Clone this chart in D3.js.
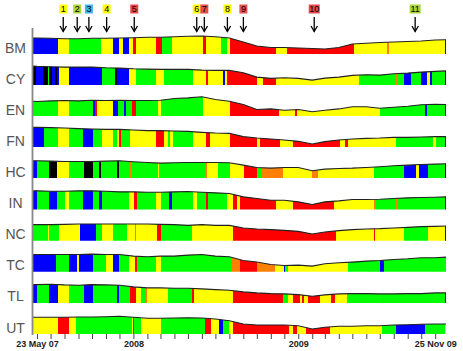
<!DOCTYPE html>
<html><head><meta charset="utf-8">
<script src="https://cdn.jsdelivr.net/npm/d3@7"></script>
<style>body{margin:0;background:#fff}svg{display:block}</style>
</head><body>
<svg id="chart" width="463" height="351"></svg>
<script>
// ---------- DATA ----------
const rowNames = ["BM","CY","EN","FN","HC","IN","NC","TC","TL","UT"];
const startDate = "2007-05-23", endDate = "2009-11-25";
const priceDates = ["2007-05-23","2007-06-01","2007-07-01","2007-08-01","2007-09-01","2007-10-01","2007-11-01","2007-12-01",
 "2008-01-01","2008-02-01","2008-03-01","2008-04-01","2008-05-01","2008-06-01","2008-07-01","2008-08-01","2008-09-01",
 "2008-10-01","2008-11-01","2008-12-01","2009-01-01","2009-02-01","2009-03-01","2009-04-01","2009-05-01","2009-06-01",
 "2009-07-01","2009-08-01","2009-09-01","2009-10-01","2009-11-01","2009-11-25"];
const priceBM = [16,16,15.7,15.3,15.3,15.7,15.7,16,16.3,16.7,16.7,17.3,17.7,18,17.3,16,12,8,6.5,6.5,6,5.5,5,6.5,10,10.7,11.5,12,12.5,13,14,14.3];
const priceCY = [19,18.7,18.3,18,18,18,17.3,17,16.3,16,15.7,15.7,15.7,15,14.7,14.7,12.3,8,6.7,7.3,6.7,5,7,8,9.7,10.3,10,11.3,12,13,13.7,14.2];
const priceEN = [15,14.7,15.3,15.7,15.3,16,15.7,16,15.7,15.7,16,17.7,18.3,19.5,16.7,15,11.7,6.7,7.3,6,6.7,4.5,6,7.3,9.5,9.5,8,9,10,11.5,12,11.7];
const priceFN = [20,20,19.7,19.3,18.7,18.3,18,18,17.3,16.7,16.7,16.3,16,15,14.3,14,10.7,9.3,8.3,7.3,6,3.3,5.7,7.3,8.3,9,9.3,10,10,10.3,10.7,10.7];
const priceHC = [17.7,17.7,17.3,17,17,17,17.3,17.7,16.7,16,15.3,15.7,16,16,16,15.7,13.3,11,10.3,11,11,7.7,9.3,10,10.3,11,11.7,12.7,13.3,14,14.3,14.7];
const priceIN = [18.7,18.7,18.3,18.3,18.7,18.7,18.3,17.7,17.7,17.3,17.3,17.7,18,17.3,16.7,16,12.7,11,9.3,9.3,7.7,5,7.7,8.7,10,10,10.3,11,11.7,12,12.3,12.7];
const priceNC = [16,16,16,16.3,16.7,16.7,16.7,16.7,16.7,16.7,16.3,16,15.3,16,15.3,15.3,12.7,11.7,11,10.3,9.3,6.7,8.7,10,11,11.7,12,12.7,13.3,14,14.3,14.7];
const priceTC = [17.3,17.3,17.3,17.3,17.3,17.7,17.3,17.3,15.7,15,15.7,15.7,16.7,17.3,15.7,15,11.3,9.7,7.3,6.3,6.7,5.7,8,9,9.7,10.7,11.3,12.3,13,14,14,14.7];
const priceTL = [18.3,18.3,18.7,18,17.7,18.3,18,17.7,16,15,15,14.7,14.7,14,13.3,12.7,11,10,9.3,9,8.3,6.7,8,9,9.3,9.3,9,9,9.3,9.3,10,10];
const priceUT = [16.7,16.7,16.7,16.7,17,17,17.3,17.7,16.7,15.7,15.7,16,16.3,16,15,13.3,10,9,9,9,8.3,5,6.7,7.7,7.7,8.3,8.3,9,9.3,9.7,10,10];

// regime segments: [start (decimal year), colour code]; each ends where the next starts
const segBM = [[2007.389,"B"],[2007.539,"Y"],[2007.610,"G"],[2007.803,"Y"],[2007.874,"B"],[2007.910,"Y"],[2007.934,"B"],[2007.971,"Y"],[2007.995,"R"],[2008.015,"Y"],[2008.135,"R"],[2008.171,"G"],[2008.232,"Y"],[2008.421,"R"],[2008.439,"Y"],[2008.530,"G"],[2008.567,"Y"],[2008.587,"R"],[2008.866,"Y"],[2008.933,"R"],[2009.341,"Y"],[2009.539,"O"],[2009.551,"Y"],[2009.894,"B"]];
const segCY = [[2007.389,"K"],[2007.407,"B"],[2007.452,"K"],[2007.482,"G"],[2007.489,"K"],[2007.507,"B"],[2007.523,"K"],[2007.533,"B"],[2007.549,"Y"],[2007.608,"B"],[2007.807,"G"],[2007.888,"K"],[2007.898,"B"],[2007.971,"Y"],[2008.015,"G"],[2008.137,"Y"],[2008.188,"G"],[2008.364,"Y"],[2008.441,"R"],[2008.455,"Y"],[2008.546,"B"],[2008.556,"Y"],[2008.567,"R"],[2008.749,"Y"],[2008.783,"R"],[2008.866,"Y"],[2009.367,"G"],[2009.596,"O"],[2009.604,"G"],[2009.645,"B"],[2009.685,"G"],[2009.746,"B"],[2009.786,"Y"],[2009.803,"B"],[2009.813,"G"],[2009.894,"K"]];
const segEN = [[2007.389,"G"],[2007.539,"Y"],[2007.610,"G"],[2007.756,"B"],[2007.766,"R"],[2007.776,"Y"],[2007.874,"B"],[2007.908,"G"],[2007.942,"B"],[2007.955,"G"],[2007.989,"R"],[2008.015,"G"],[2008.151,"Y"],[2008.167,"G"],[2008.425,"Y"],[2008.587,"R"],[2008.881,"Y"],[2008.978,"R"],[2008.992,"Y"],[2009.495,"G"],[2009.768,"B"],[2009.786,"G"],[2009.894,"B"]];
const segFN = [[2007.389,"B"],[2007.456,"G"],[2007.539,"Y"],[2007.610,"G"],[2007.695,"B"],[2007.756,"G"],[2007.807,"Y"],[2007.874,"G"],[2007.902,"Y"],[2007.914,"R"],[2007.922,"G"],[2007.979,"Y"],[2008.137,"R"],[2008.188,"Y"],[2008.208,"G"],[2008.222,"Y"],[2008.242,"G"],[2008.364,"Y"],[2008.441,"R"],[2008.465,"Y"],[2008.587,"R"],[2008.749,"Y"],[2008.765,"R"],[2008.887,"Y"],[2008.968,"R"],[2009.251,"Y"],[2009.286,"R"],[2009.300,"Y"],[2009.596,"G"],[2009.819,"Y"],[2009.839,"G"],[2009.894,"B"]];
const segHC = [[2007.389,"B"],[2007.416,"G"],[2007.487,"K"],[2007.537,"Y"],[2007.610,"G"],[2007.699,"K"],[2007.752,"G"],[2007.793,"K"],[2007.803,"G"],[2007.902,"K"],[2007.912,"G"],[2007.979,"O"],[2007.983,"G"],[2008.147,"Y"],[2008.157,"G"],[2008.441,"O"],[2008.445,"Y"],[2008.510,"G"],[2008.587,"Y"],[2008.668,"R"],[2008.749,"G"],[2008.779,"O"],[2008.905,"Y"],[2009.083,"O"],[2009.120,"Y"],[2009.462,"G"],[2009.645,"B"],[2009.715,"Y"],[2009.732,"B"],[2009.788,"G"],[2009.894,"K"]];
const segIN = [[2007.389,"B"],[2007.412,"G"],[2007.487,"B"],[2007.533,"G"],[2007.584,"Y"],[2007.610,"G"],[2007.695,"B"],[2007.756,"G"],[2007.793,"B"],[2007.807,"G"],[2007.975,"Y"],[2008.005,"R"],[2008.019,"G"],[2008.137,"Y"],[2008.167,"G"],[2008.216,"B"],[2008.232,"G"],[2008.364,"Y"],[2008.384,"G"],[2008.441,"R"],[2008.451,"G"],[2008.567,"Y"],[2008.603,"R"],[2008.627,"Y"],[2008.648,"R"],[2008.864,"Y"],[2008.968,"R"],[2009.219,"Y"],[2009.462,"O"],[2009.468,"G"],[2009.594,"O"],[2009.600,"G"],[2009.894,"B"]];
const segNC = [[2007.389,"G"],[2007.478,"Y"],[2007.487,"G"],[2007.549,"Y"],[2007.675,"B"],[2007.772,"G"],[2007.807,"Y"],[2007.874,"G"],[2007.959,"Y"],[2008.009,"O"],[2008.015,"Y"],[2008.141,"R"],[2008.167,"G"],[2008.358,"Y"],[2008.510,"G"],[2008.516,"Y"],[2008.603,"R"],[2009.229,"Y"],[2009.458,"R"],[2009.464,"Y"],[2009.645,"G"],[2009.792,"Y"],[2009.894,"B"]];
const segTC = [[2007.389,"B"],[2007.529,"G"],[2007.610,"B"],[2007.655,"Y"],[2007.671,"B"],[2007.752,"G"],[2007.833,"Y"],[2007.878,"B"],[2007.914,"G"],[2007.975,"Y"],[2008.009,"R"],[2008.019,"G"],[2008.056,"O"],[2008.060,"G"],[2008.137,"Y"],[2008.167,"G"],[2008.445,"O"],[2008.449,"G"],[2008.597,"O"],[2008.648,"R"],[2008.749,"O"],[2008.860,"Y"],[2008.911,"B"],[2008.921,"G"],[2008.935,"Y"],[2009.302,"G"],[2009.499,"B"],[2009.519,"G"]];
const segTL = [[2007.389,"B"],[2007.412,"G"],[2007.487,"B"],[2007.539,"Y"],[2007.610,"G"],[2007.701,"B"],[2007.756,"G"],[2007.902,"B"],[2007.914,"G"],[2007.979,"R"],[2008.015,"Y"],[2008.046,"G"],[2008.076,"O"],[2008.084,"Y"],[2008.208,"G"],[2008.358,"R"],[2008.368,"Y"],[2008.603,"R"],[2008.905,"G"],[2008.935,"Y"],[2008.968,"R"],[2009.008,"Y"],[2009.022,"R"],[2009.033,"Y"],[2009.059,"R"],[2009.130,"Y"],[2009.201,"R"],[2009.225,"Y"],[2009.296,"G"],[2009.515,"O"],[2009.523,"G"],[2009.894,"B"]];
const segUT = [[2007.389,"Y"],[2007.543,"R"],[2007.610,"Y"],[2007.651,"G"],[2007.989,"Y"],[2007.995,"R"],[2008.005,"G"],[2008.046,"Y"],[2008.167,"G"],[2008.435,"R"],[2008.471,"Y"],[2008.522,"B"],[2008.546,"G"],[2008.581,"Y"],[2008.603,"R"],[2008.941,"Y"],[2008.966,"R"],[2008.992,"Y"],[2009.049,"R"],[2009.195,"Y"],[2009.509,"G"],[2009.596,"B"],[2009.772,"G"],[2009.894,"Y"]];

const arrowYears  = [2007.573,2007.658,2007.729,2007.837,2008.005,2008.384,2008.430,2008.570,2008.667,2009.097,2009.711];
const arrowLabels = ["1","2","3","4","5","6","7","8","9","10","11"];
const arrowColors = ["#ffff00","#a8d43c","#3cb8e8","#ffff00","#e84848","#ffff00","#e84848","#ffff00","#e85050","#e84848","#a8d43c"];

const tickLabelDates = ["2007-06-01","2008-01-01","2009-01-01","2009-11-01"];
const tickLabelTexts = ["23 May 07","2008","2009","25 Nov 09"];

const colorMap = {B:"#0000ff",G:"#00ff00",Y:"#ffff00",R:"#ff0000",K:"#000000",O:"#ff8000"};

// ---------- BUILD ----------
const prices = {BM:priceBM,CY:priceCY,EN:priceEN,FN:priceFN,HC:priceHC,IN:priceIN,NC:priceNC,TC:priceTC,TL:priceTL,UT:priceUT};
const segs = {BM:segBM,CY:segCY,EN:segEN,FN:segFN,HC:segHC,IN:segIN,NC:segNC,TC:segTC,TL:segTL,UT:segUT};
const parse = d3.utcParse("%Y-%m-%d");
function decToDate(y){const yr=Math.floor(y);const s=Date.UTC(yr,0,1),e=Date.UTC(yr+1,0,1);return new Date(s+(y-yr)*(e-s));}

const svg = d3.select("#chart");
const x = d3.scaleUtc().domain([parse(startDate), parse(endDate)]).range([33, 446]);
const rowY = d3.scalePoint().domain(rowNames).range([54, 334]);   // baseline of each row
const h = d3.scaleLinear().domain([0, 20]).range([0, 20]);
const pDates = priceDates.map(parse);
const domEnd = parse(endDate);

rowNames.forEach((name, i) => {
  const base = rowY(name);
  const pts = pDates.map((d, k) => [d, prices[name][k]]);
  const area = d3.area().x(d => x(d[0])).y0(base).y1(d => base - h(d[1]));
  const line = d3.line().x(d => x(d[0])).y(d => base - h(d[1]));
  svg.append("clipPath").attr("id", "clip" + i).append("path").attr("d", area(pts));
  const g = svg.append("g").attr("clip-path", `url(#clip${i})`);
  const sg = segs[name];
  g.selectAll("rect").data(sg).join("rect")
    .attr("x", d => x(decToDate(d[0])))
    .attr("width", (d, k) => {
      const end = k < sg.length - 1 ? decToDate(sg[k+1][0]) : domEnd;
      return Math.max(0, x(end) - x(decToDate(d[0])));
    })
    .attr("y", base - 24).attr("height", 24)
    .attr("fill", d => colorMap[d[1]])
    .attr("shape-rendering", "crispEdges");
  svg.append("path").attr("d", line(pts)).attr("fill", "none")
    .attr("stroke", "#222").attr("stroke-width", 1.1);
  svg.append("text").attr("x", 15.5).attr("y", base - 1.5)
    .attr("text-anchor", "middle").attr("font-family", "Liberation Sans, Arial, sans-serif")
    .attr("font-size", 14).attr("fill", "#555").text(name);
});

// left axis line
svg.append("line").attr("x1", 32.5).attr("x2", 32.5).attr("y1", 28).attr("y2", 335)
  .attr("stroke", "#888").attr("stroke-width", 1.8);

// bottom axis
const labelMap = new Map(tickLabelDates.map((d, i) => [+parse(d), tickLabelTexts[i]]));
const axis = d3.axisBottom(x).ticks(d3.utcMonth.every(1)).tickSize(5).tickPadding(2)
  .tickFormat(d => labelMap.get(+d) || "");
const ag = svg.append("g").attr("transform", `translate(0,${rowY("UT")})`).call(axis);
ag.select(".domain").remove();
ag.selectAll(".tick line").attr("stroke", "#444");
ag.selectAll(".tick text").attr("font-family", "Liberation Sans, Arial, sans-serif")
  .attr("font-size", 9).attr("font-weight", "bold").attr("fill", "#222");

// arrow annotations
const ann = svg.append("g");
arrowYears.forEach((yv, i) => {
  const cx = x(decToDate(yv));
  const w = arrowLabels[i].length > 1 ? 11 : 8;
  ann.append("rect").attr("x", cx - w/2).attr("y", 4.5).attr("width", w).attr("height", 9)
    .attr("fill", arrowColors[i]);
  ann.append("text").attr("x", cx).attr("y", 12.3).attr("text-anchor", "middle")
    .attr("font-family", "Liberation Sans, Arial, sans-serif").attr("font-size", 9)
    .attr("fill", "#000").text(arrowLabels[i]);
  ann.append("line").attr("x1", cx).attr("x2", cx).attr("y1", 17).attr("y2", 31.5)
    .attr("stroke", "#000").attr("stroke-width", 1.3);
  ann.append("path").attr("d", `M${cx-3.2},${26} L${cx},${31.5} L${cx+3.2},${26}`)
    .attr("fill", "none").attr("stroke", "#000").attr("stroke-width", 1.3);
});
</script>
</body></html>
